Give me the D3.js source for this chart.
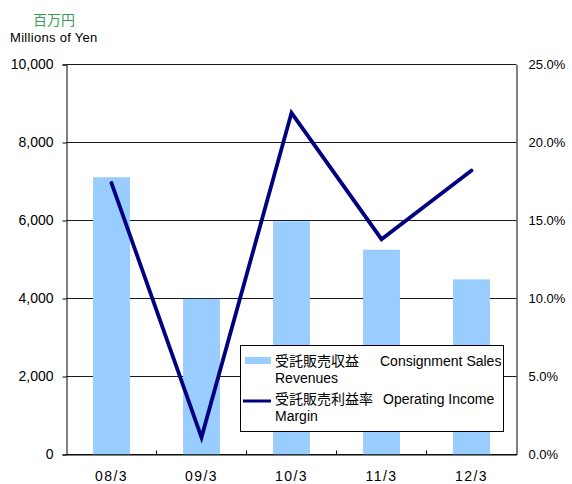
<!DOCTYPE html>
<html>
<head>
<meta charset="utf-8">
<script src="https://cdn.jsdelivr.net/npm/d3@7"></script>
<style>
  body { margin: 0; background: #fff; }
  text { font-family: "Liberation Sans", Arial, "Noto Sans CJK JP", sans-serif; }
</style>
</head>
<body>
<div id="chart"></div>
<script>
// Chart values
const periods = ["08/3", "09/3", "10/3", "11/3", "12/3"];
const revenues = [7110, 3990, 5980, 5250, 4490];       // millions of yen
const marginPct = [17.4, 1.1, 21.9, 13.8, 18.2];       // operating income margin %
const leftTicks = [0, 2000, 4000, 6000, 8000, 10000];
const rightTicks = [0, 5, 10, 15, 20, 25];

const legendRows = [
    { kind: "bar", ja: "受託販売収益", en: "Consignment Sales", en2: "Revenues" },
    { kind: "line", ja: "受託販売利益率", en: "Operating Income", en2: "Margin" }
];

// Layout
const W = 572, H = 484;
const plot = { left: 66.5, top: 64.5, width: 450, height: 390 };
const barColor = "#99ccff";
const lineColor = "#000080";

const svg = d3.select("#chart").append("svg")
    .attr("width", W)
    .attr("height", H);

const g = svg.append("g")
    .attr("transform", `translate(${plot.left},${plot.top})`);

// Scales
const xScale = d3.scaleBand()
    .domain(periods)
    .range([0, plot.width])
    .paddingInner(0.59)
    .paddingOuter(0.295);

const xCat = d3.scaleBand()
    .domain(periods)
    .range([0, plot.width]);

const yLeft = d3.scaleLinear().domain([0, 10000]).range([plot.height, 0]);
const yRight = d3.scaleLinear().domain([0, 25]).range([plot.height, 0]);

// Gridlines
g.append("g")
    .selectAll("line")
    .data(leftTicks)
    .enter()
    .append("line")
        .attr("x1", 0)
        .attr("x2", plot.width)
        .attr("y1", d => Math.round(yLeft(d)))
        .attr("y2", d => Math.round(yLeft(d)))
        .attr("stroke", "#1a1a1a")
        .attr("stroke-width", 1);

// Bars
g.selectAll(".bar")
    .data(periods)
    .enter()
    .append("rect")
        .attr("class", "bar")
        .attr("x", d => xScale(d))
        .attr("y", (d, i) => yLeft(revenues[i]))
        .attr("width", xScale.bandwidth())
        .attr("height", (d, i) => plot.height - yLeft(revenues[i]))
        .attr("fill", barColor);

// Line
const line = d3.line()
    .x((d, i) => xCat(periods[i]) + xCat.bandwidth() / 2)
    .y(d => yRight(d));

g.append("path")
    .datum(marginPct)
    .attr("d", line)
    .attr("fill", "none")
    .attr("stroke", lineColor)
    .attr("stroke-width", 3.8)
    .attr("stroke-linejoin", "miter")
    .attr("stroke-linecap", "round");

// Left axis
const leftAxis = g.append("g")
    .call(d3.axisLeft(yLeft)
        .tickValues(leftTicks)
        .tickSize(4)
        .tickPadding(9)
        .tickFormat(d3.format(",")));
leftAxis.select(".domain").attr("stroke", "#000");
leftAxis.selectAll("line").attr("stroke", "#000");
leftAxis.selectAll("text")
    .attr("font-size", "14px")
    .attr("fill", "#000")
    .attr("font-family", "Liberation Sans, Arial, sans-serif");

// Right axis
const rightAxis = g.append("g")
    .attr("transform", `translate(${plot.width},0)`)
    .call(d3.axisRight(yRight)
        .tickValues(rightTicks)
        .tickSize(0)
        .tickPadding(12)
        .tickFormat(d => d.toFixed(1) + "%"));
rightAxis.select(".domain").attr("stroke", "#000");
rightAxis.selectAll("text")
    .attr("font-size", "13px")
    .attr("fill", "#000")
    .attr("font-family", "Liberation Sans, Arial, sans-serif");

// Bottom axis: ticks at category boundaries, pointing up
const bottomAxis = g.append("g")
    .attr("transform", `translate(0,${plot.height})`)
    .call(d3.axisBottom(xCat).tickSize(0).tickPadding(17));
bottomAxis.select(".domain").attr("stroke", "#000");
bottomAxis.selectAll("text")
    .attr("font-size", "14px")
    .attr("letter-spacing", "1.5px")
    .attr("fill", "#000")
    .attr("font-family", "Liberation Sans, Arial, sans-serif");

bottomAxis.selectAll(".sep")
    .data(periods.slice(1))
    .enter()
    .append("line")
        .attr("class", "sep")
        .attr("x1", d => xCat(d))
        .attr("x2", d => xCat(d))
        .attr("y1", 0)
        .attr("y2", -4)
        .attr("stroke", "#000");

// Unit labels
svg.append("text")
    .attr("x", 33)
    .attr("y", 25)
    .attr("font-size", "14px")
    .attr("fill", "#3c9c5c")
    .attr("font-family", "Noto Sans CJK JP, sans-serif")
    .text("百万円");

svg.append("text")
    .attr("x", 10)
    .attr("y", 42)
    .attr("font-size", "13px")
    .attr("letter-spacing", "0.3px")
    .attr("fill", "#000")
    .text("Millions of Yen");

// Legend
const legend = svg.append("g");

legend.append("rect")
    .attr("x", 240.5)
    .attr("y", 345.5)
    .attr("width", 263)
    .attr("height", 86)
    .attr("fill", "#fff")
    .attr("stroke", "#000")
    .attr("stroke-width", 1);

const rowTop = [366, 404];
const rowEnX = [380, 383];

legendRows.forEach((row, i) => {
    const base = rowTop[i];
    if (row.kind === "bar") {
        legend.append("rect")
            .attr("x", 245)
            .attr("y", base - 9)
            .attr("width", 26)
            .attr("height", 7)
            .attr("fill", barColor);
    } else {
        legend.append("line")
            .attr("x1", 243)
            .attr("x2", 271)
            .attr("y1", base - 3)
            .attr("y2", base - 3)
            .attr("stroke", lineColor)
            .attr("stroke-width", 3);
    }
    legend.append("text")
        .attr("x", 275)
        .attr("y", base)
        .attr("font-size", "14px")
        .attr("font-family", "Noto Sans CJK JP, sans-serif")
        .text(row.ja);
    legend.append("text")
        .attr("x", rowEnX[i])
        .attr("y", base)
        .attr("font-size", "14px")
        .text(row.en);
    legend.append("text")
        .attr("x", 275)
        .attr("y", base + 17)
        .attr("font-size", "14px")
        .text(row.en2);
});
</script>
</body>
</html>
